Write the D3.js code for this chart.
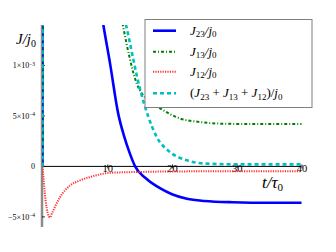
<!DOCTYPE html>
<html><head><meta charset="utf-8">
<script src="https://cdn.jsdelivr.net/npm/d3@7"></script>
<style>body{margin:0;background:#fff}svg{display:block}</style>
</head><body>
<svg id="c" width="336" height="252"></svg>
<script>
// data (t/τ0, J/j0)
const t23 = [0, 0.15, 3, 6, 8, 9.4, 10.43, 11.7, 12.6, 13.5, 14.3, 16, 18.2, 20, 22.3, 25, 29.4, 35, 40];
const J23 = [0, 0.03, 0.008, 0.0035, 0.002, 1.4e-3, 1.02e-3, 0.52e-3, 0.3e-3, 0.126e-3, 0, -1.2e-4, -2.18e-4, -2.75e-4, -3.2e-4, -3.42e-4, -3.55e-4, -3.6e-4, -3.6e-4];
const t13 = [0, 0.15, 4, 8, 11, 12.4, 14.56, 16, 18.2, 21.25, 24.3, 27.1, 32, 40];
const J13 = [0, 0.03, 0.008, 0.0035, 0.0019, 1.4e-3, 0.82e-3, 0.67e-3, 0.573e-3, 0.474e-3, 0.44e-3, 0.424e-3, 0.42e-3, 0.42e-3];
const t12 = [0, 0.2, 0.5, 0.8, 1.15, 1.5, 2, 2.7, 4.25, 5.8, 7.3, 8.9, 10.4, 15, 20, 30, 40];
const J12 = [0, -1.5e-4, -3.5e-4, -4.6e-4, -5.05e-4, -4.6e-4, -3.9e-4, -3.05e-4, -1.9e-4, -1.39e-4, -1.06e-4, -0.79e-4, -0.63e-4, -0.55e-4, -0.5e-4, -0.48e-4, -0.47e-4];
const tSum = [0, 0.15, 4, 8, 11, 12.9, 15.1, 16.35, 17.65, 19.7, 22.3, 25.4, 30, 40];
const JSum = [0, 0.03, 0.008, 0.0035, 0.0019, 1.4e-3, 0.755e-3, 0.49e-3, 0.29e-3, 0.142e-3, 0.06e-3, 0.027e-3, 0.02e-3, 0.02e-3];
const xTicks = [10, 20, 30, 40];
const yTicks = [
  {v: 1e-3, m: "1", e: "\u22123"},
  {v: 5e-4, m: "5", e: "\u22124"},
  {v: 0, m: "0", e: null},
  {v: -5e-4, m: "\u22125", e: "\u22124"}
];

const svg = d3.select("#c");
const x = d3.scaleLinear().domain([0, 40]).range([42.5, 301.5]);
const y = d3.scaleLinear().domain([-6e-4, 1.4e-3]).range([227, 25]);
const serif = "'Liberation Serif', 'DejaVu Serif', serif";

svg.append("defs").append("clipPath").attr("id", "clip")
  .append("rect").attr("x", 42).attr("y", 25).attr("width", 262).attr("height", 202);

// left spine (grey)
svg.append("line").attr("x1", 42).attr("x2", 42).attr("y1", 25).attr("y2", 227)
  .attr("stroke", "#8c8c8c").attr("stroke-width", 2.5);

// x axis at y=0
const xAxis = d3.axisBottom(x).tickValues(xTicks).tickSize(0).tickFormat(d3.format("d"));
const gx = svg.append("g").attr("transform", `translate(0,${y(0)})`).call(xAxis);
gx.select(".domain").attr("stroke", "#000").attr("stroke-width", 1).attr("d", `M${x(0)},0H${x(40)}`);
gx.selectAll(".tick text").attr("font-family", serif).attr("font-size", 10.5).attr("fill", "#000").attr("dy", "0.2em").attr("y", 3);
gx.selectAll(".tick").append("line").attr("y1", -2).attr("y2", 2).attr("stroke", "#000").attr("stroke-width", 0.8);

// y ticks
const gy = svg.append("g");
yTicks.forEach(d => {
  gy.append("line").attr("x1", 42).attr("x2", 45).attr("y1", y(d.v)).attr("y2", y(d.v)).attr("stroke", "#000").attr("stroke-width", 0.8);
  const tx = gy.append("text").attr("x", 35).attr("y", y(d.v)).attr("dy", "0.35em")
    .attr("text-anchor", "end").attr("font-family", serif).attr("font-size", 8).attr("fill", "#000");
  if (d.e) {
    tx.append("tspan").text(d.m + "\u00d710");
    tx.append("tspan").attr("dy", "-0.45em").attr("font-size", 5.5).text(d.e);
  } else {
    tx.text(d.m);
  }
});

// curves
const plot = svg.append("g").attr("clip-path", "url(#clip)");
const line = d3.line().x(d => x(d[0])).y(d => y(d[1])).curve(d3.curveMonotoneX);
const series = [
  {t: t23, v: J23, color: "#0000ff", w: 2.6, dash: null},
  {t: t13, v: J13, color: "#008000", w: 2, dash: "3,2,1,2"},
  {t: t12, v: J12, color: "#ff3030", w: 2, dash: "1.2,1.2"},
  {t: tSum, v: JSum, color: "#00bfbf", w: 2.6, dash: "4,3"}
];
series.forEach(s => {
  plot.append("path").datum(d3.zip(s.t, s.v)).attr("d", line)
    .attr("fill", "none").attr("stroke", s.color).attr("stroke-width", s.w)
    .attr("stroke-dasharray", s.dash);
});

// axis labels
const yl = svg.append("text").attr("x", 16).attr("y", 44).attr("font-family", serif)
  .attr("font-style", "italic").attr("font-size", 15).attr("fill", "#000");
yl.append("tspan").text("J/j");
yl.append("tspan").attr("dy", "0.3em").attr("font-size", 10).attr("font-style", "normal").text("0");

const xl = svg.append("text").attr("x", 262).attr("y", 188).attr("font-family", serif)
  .attr("font-style", "italic").attr("font-size", 17).attr("fill", "#000");
xl.append("tspan").text("t/\u03c4");
xl.append("tspan").attr("dy", "0.3em").attr("font-size", 11).attr("font-style", "normal").text("0");

// legend
const lg = svg.append("g");
lg.append("rect").attr("x", 145).attr("y", 19.5).attr("width", 167).attr("height", 88)
  .attr("fill", "#fff").attr("stroke", "#808080").attr("stroke-width", 1);
const labels = [
  [["J", "i"], ["23", "s"], ["/j", "i"], ["0", "s"]],
  [["J", "i"], ["13", "s"], ["/j", "i"], ["0", "s"]],
  [["J", "i"], ["12", "s"], ["/j", "i"], ["0", "s"]],
  [["(", "n"], ["J", "i"], ["23", "s"], [" + ", "n"], ["J", "i"], ["13", "s"], [" + ", "n"], ["J", "i"], ["12", "s"], [")/", "n"], ["j", "i"], ["0", "s"]]
];
const rowsY = [30.7, 51.7, 71.7, 93.3];
series.forEach((s, i) => {
  lg.append("line").attr("x1", 153).attr("x2", 176).attr("y1", rowsY[i]).attr("y2", rowsY[i])
    .attr("stroke", s.color).attr("stroke-width", s.w).attr("stroke-dasharray", s.dash);
  const tx = lg.append("text").attr("x", 190).attr("y", rowsY[i]).attr("dy", "0.3em")
    .attr("font-family", serif).attr("font-size", 13).attr("fill", "#000");
  let prevSub = false;
  labels[i].forEach(([str, k]) => {
    const sp = tx.append("tspan").text(str).attr("xml:space", "preserve");
    if (k === "i") sp.attr("font-style", "italic");
    if (k === "s") { sp.attr("font-size", 9).attr("dy", prevSub ? 0 : "0.3em"); prevSub = true; }
    else { if (prevSub) sp.attr("dy", "-0.21em"); prevSub = false; }
  });
});
</script>
</body></html>
